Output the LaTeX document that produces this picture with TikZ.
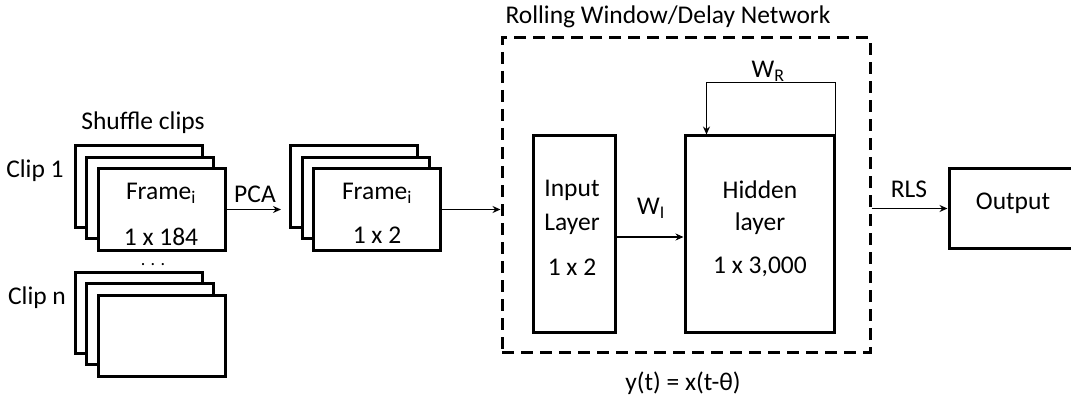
\documentclass[tikz,border=0pt]{standalone}
\usepackage{fontspec}
\setmainfont{Carlito}
\usetikzlibrary{arrows.meta}
\begin{document}
\begin{tikzpicture}[x=1pt,y=-1pt,
  every node/.style={font=\fontsize{25.5}{30}\selectfont, inner sep=0pt},
  frm/.style={draw, line width=3pt, fill=white, minimum width=127pt, minimum height=81pt},
  blk/.style={draw, line width=3pt, fill=white},
  arr/.style={line width=1.8pt, -{Stealth[length=8pt,width=7pt]}},
  lbl/.style={anchor=center}]
\clip (0,0) rectangle (1071,401);
\useasboundingbox (0,0) rectangle (1071,401);
% clip 1 stack
\node[frm] (c1b) at (138.5,186.5) {};
\node[frm] (c1m) at (150,198) {};
\node[frm] (c1f) at (161.5,209.5) {};
\node[lbl] (c1t) at (161,193) {Frame\textsubscript{i}};
\node[lbl] (c1d) at (161,237) {1 x 184};
% clip n stack
\node[frm] (cnb) at (138.5,312.5) {};
\node[frm] (cnm) at (150,324) {};
\node[frm] (cnf) at (161.5,335.5) {};
% labels left
\node[lbl] (shuf) at (143,123) {Shuffle clips};
\node[lbl] (clip1) at (35,171) {Clip 1};
\node[lbl] (clipn) at (37,298) {Clip n};
\node[anchor=base, font=\fontsize{18}{20}\selectfont, text height=2pt, text depth=0pt] (dots) at (153,265) {. . .};
% PCA stack
\node[frm] (pb) at (354,186.5) {};
\node[frm] (pm) at (365.5,198) {};
\node[frm] (pf) at (377,209.5) {};
\node[lbl] (pt) at (377,193) {Frame\textsubscript{i}};
\node[lbl] (pd) at (377,235) {1 x 2};
\draw[arr, shorten >=8pt] (c1f.east) -- (c1f.east -| pb.west);
\node[lbl] (pca) at (255,194) {PCA};
% dashed network box
\node[draw, line width=3pt, dash pattern=on 12pt off 7pt, minimum width=368pt, minimum height=314pt] (dbox) at (686,195) {};
\node[lbl] (title) at (668,17) {Rolling Window/Delay Network};
\draw[arr] (pf.east) -- (pf.east -| dbox.west);
% input and hidden layers
\node[blk, minimum width=82pt, minimum height=196pt] (inp) at (574,234) {};
\node[lbl] (inp1) at (572,190) {Input};
\node[lbl] (inp2) at (572,224) {Layer};
\node[lbl] (inp3) at (572,267) {1 x 2};
\node[blk, minimum width=149pt, minimum height=196pt] (hid) at (759.5,234) {};
\node[lbl] (hid1) at (760,190) {Hidden};
\node[lbl] (hid2) at (760,224) {layer};
\node[lbl] (hid3) at (760,267) {1 x 3,000};
\draw[arr] ([yshift=-3pt]inp.east) -- ([yshift=-3pt]hid.west);
\node[lbl] (wi) at (651,208) {W\textsubscript{I}};
\draw[arr] (hid.north east) -- ++(0,-52) -| ([xshift=23pt]hid.north west);
\node[lbl] (wr) at (768,71) {W\textsubscript{R}};
% output
\node[blk, minimum width=131pt, minimum height=79pt] (out) at (1014.5,208.5) {};
\node[lbl] (outt) at (1013,203) {Output};
\draw[arr] (dbox.east |- out.west) -- (out.west);
\node[lbl] (rls) at (909,189) {RLS};
\node[lbl] (eq) at (683,383) {y(t) = x(t-θ)};
\end{tikzpicture}
\end{document}
